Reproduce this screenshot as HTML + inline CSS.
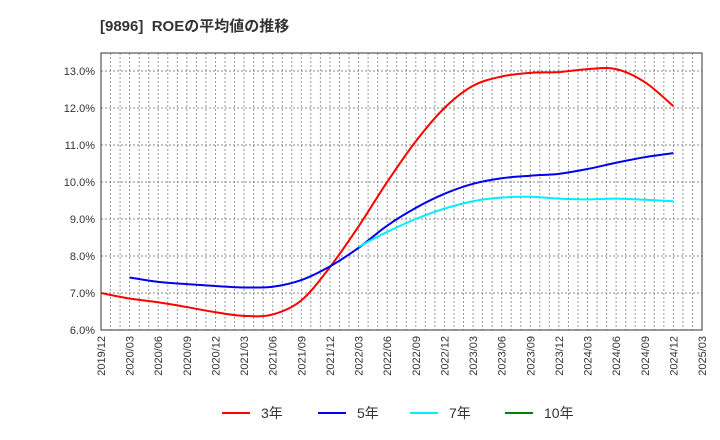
<!DOCTYPE html>
<html><head><meta charset="utf-8"><style>
body{margin:0;background:#fff;}
svg{display:block;font-family:"Liberation Sans","Noto Sans CJK JP",sans-serif;}
</style></head><body>
<svg id="c" width="720" height="440">
<text x="100" y="31" font-size="15" font-weight="bold" fill="#333">[9896]&#160; ROEの平均値の推移</text>
<g id="grid"></g><g id="axes"></g><g id="series"></g><g id="legend"></g>
</svg>
<script>
const xLabels=["2019/12","2020/03","2020/06","2020/09","2020/12","2021/03","2021/06","2021/09","2021/12","2022/03","2022/06","2022/09","2022/12","2023/03","2023/06","2023/09","2023/12","2024/03","2024/06","2024/09","2024/12","2025/03"];
const yTicks=[6,7,8,9,10,11,12,13];
const s3=[7.0,6.85,6.75,6.62,6.48,6.38,6.42,6.8,7.7,8.8,10.0,11.1,12.0,12.6,12.85,12.95,12.97,13.05,13.05,12.7,12.05];
const s3Start=0;
const s5=[7.42,7.3,7.24,7.19,7.15,7.17,7.35,7.72,8.22,8.82,9.3,9.68,9.95,10.1,10.17,10.22,10.35,10.52,10.67,10.78];
const s5Start=1;
const s7=[8.25,8.65,9.0,9.28,9.48,9.58,9.6,9.55,9.53,9.55,9.52,9.48];
const s7Start=9;
const s10=[];
const s10Start=0;
const L=101,R=702,T=53,B=330,yMin=6,yMax=13.486;
const NS="http://www.w3.org/2000/svg";
const X=q=>L+q*(R-L)/(xLabels.length-1);
const Y=v=>B-(v-yMin)*(B-T)/(yMax-yMin);
function mk(tag,attrs,parent){const e=document.createElementNS(NS,tag);for(const k in attrs)e.setAttribute(k,attrs[k]);parent.appendChild(e);return e;}
const grid=document.getElementById('grid'),axes=document.getElementById('axes'),ser=document.getElementById('series'),leg=document.getElementById('legend');
mk('rect',{x:L,y:T,width:R-L,height:B-T,fill:'#fff'},grid);
for(let m=1;m<(xLabels.length-1)*3;m++){const x=L+m*(R-L)/((xLabels.length-1)*3);
 const l=mk('line',{x1:x,x2:x,y1:T,y2:B,stroke:'#999','stroke-dasharray':'2,2','stroke-width':1},grid);
 
 }
yTicks.forEach(v=>{const y=Y(v);
 const l=mk('line',{x1:L,x2:R,y1:y,y2:y,stroke:'#888','stroke-dasharray':'2,2','stroke-width':1},grid);
 
 
 const t=mk('text',{x:L-6,y:y+4,'text-anchor':'end','font-size':11,fill:'#333'},axes);t.textContent=v.toFixed(1)+'%';
 
 });
xLabels.forEach((s,i)=>{const x=X(i);
 const t=mk('text',{x:x+4,y:B+6,'text-anchor':'end','font-size':11,fill:'#333',transform:`rotate(-90 ${x+4} ${B+6})`},axes);t.textContent=s;
 
 });
const fr=mk('rect',{x:L,y:T,width:R-L,height:B-T,fill:'none',stroke:'#333','stroke-width':1},axes);


function path(vals,start){const p=vals.map((v,i)=>[X(start+i),Y(v)]);if(p.length<2)return '';
 let d=`M${p[0][0]},${p[0][1]}`;
 for(let i=0;i<p.length-1;i++){const p0=p[i-1]||p[i],p1=p[i],p2=p[i+1],p3=p[i+2]||p2;
  d+=` C${p1[0]+(p2[0]-p0[0])/6},${p1[1]+(p2[1]-p0[1])/6} ${p2[0]-(p3[0]-p1[0])/6},${p2[1]-(p3[1]-p1[1])/6} ${p2[0]},${p2[1]}`;}
 return d;}
const defs=[[s3,s3Start,'#ff0000','3年','series-3y'],[s5,s5Start,'#0000ee','5年','series-5y'],[s7,s7Start,'#00eeff','7年','series-7y'],[s10,s10Start,'#008000','10年','series-10y']];
const legX=[222,318,410,505];
defs.forEach((d,i)=>{const pd=path(d[0],d[1]);
 if(pd){const e=mk('path',{d:pd,fill:'none',stroke:d[2],'stroke-width':2},ser);
  
  }
 const g=mk('g',{},leg);
 
 
 mk('line',{x1:legX[i],x2:legX[i]+28,y1:413,y2:413,stroke:d[2],'stroke-width':2},g);
 const t=mk('text',{x:legX[i]+39,y:418,'font-size':14,fill:'#333'},g);t.textContent=d[3];});
</script>
</body></html>
